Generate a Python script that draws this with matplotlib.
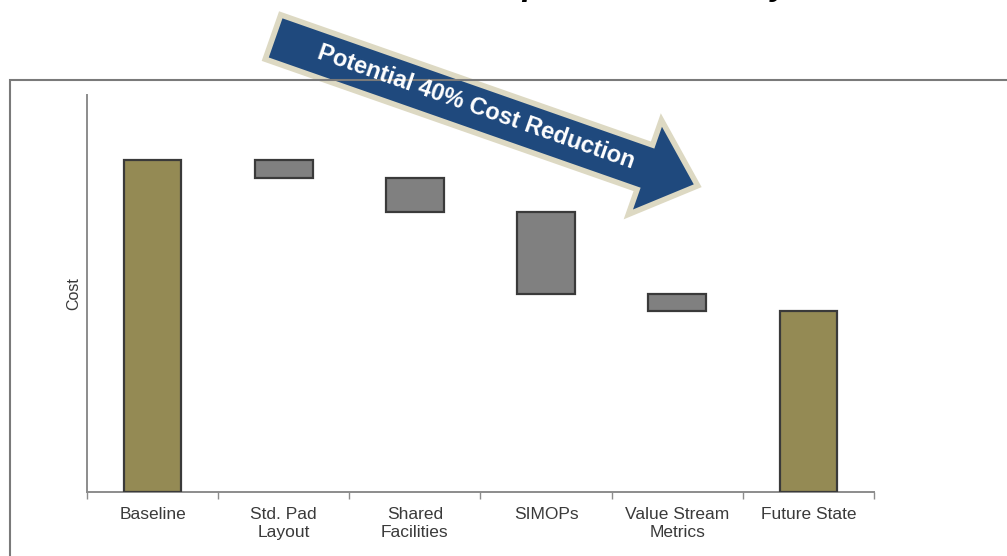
import matplotlib
matplotlib.use("Agg")
import matplotlib.pyplot as plt
from matplotlib.patches import FancyArrow
import numpy as np

plt.rcParams['font.family'] = ['Liberation Sans', 'DejaVu Sans']

# waterfall data
categories = ["Baseline", "Std. Pad\nLayout", "Shared\nFacilities", "SIMOPs",
              "Value Stream\nMetrics", "Future State"]
baseline = 100.0
reductions = [5.5, 10.0, 25.0, 5.0]   # Std. Pad, Shared, SIMOPs, Value Stream

olive = "#948a54"
grey = "#808080"
edge = "#3a3a3a"
axis_col = "#8c8c8c"

# cumulative steps
levels = [baseline]
for r in reductions:
    levels.append(levels[-1] - r)
future = levels[-1]

heights = [baseline] + reductions + [future]
bottoms = [0] + levels[1:] + [0]
colors = [olive] + [grey] * len(reductions) + [olive]

fig = plt.figure(figsize=(10.07, 5.56), dpi=100)

ax = fig.add_axes([87/1007, 64/556, 787/1007, 397/556])
ax.patch.set_alpha(0)
x = np.arange(len(categories))
ax.bar(x, heights, bottom=bottoms, width=0.44, color=colors,
       edgecolor=edge, linewidth=1.6, zorder=3)

ax.set_xlim(-0.5, len(categories) - 0.5)
ax.set_ylim(0, 119.6)
ax.set_xticks(x)
ax.set_xticklabels(categories, fontsize=12.5, color="#3a3a3a", linespacing=1.25)
ax.tick_params(axis="x", which="major", length=0, pad=11)
ax.set_xticks(np.arange(-0.5, len(categories)), minor=True)
ax.tick_params(axis="x", which="minor", length=5, color=axis_col, width=1)
ax.set_yticks([])
ax.set_ylabel("Cost", fontsize=11.5, color="#3a3a3a", labelpad=4)
for s in ["top", "right"]:
    ax.spines[s].set_visible(False)
for s in ["left", "bottom"]:
    ax.spines[s].set_color(axis_col)
    ax.spines[s].set_linewidth(1.4)

# overlay in pixel units for the frame and the arrow
ov = fig.add_axes([0, 0, 1, 1], zorder=5)
ov.set_xlim(0, 1007)
ov.set_ylim(556, 0)
ov.axis("off")
ov.plot([10, 10, 1007], [556, 80, 80], color="#7a7a7a", lw=1.5,
        solid_joinstyle="miter")

ang = np.deg2rad(19.3)
tail = np.array([273.0, 37.0])
length = 450.0
d = np.array([np.cos(ang), np.sin(ang)])
arr = FancyArrow(tail[0], tail[1], length * d[0], length * d[1],
                 width=47, head_width=100, head_length=56,
                 length_includes_head=True, facecolor="#1f497d",
                 edgecolor="#ddd9c3", linewidth=4, joinstyle="miter")
ov.add_patch(arr)
mid = tail + 215 * d
ov.text(mid[0], mid[1] - 1, "Potential 40% Cost Reduction", color="white",
        fontsize=17, fontweight="bold", rotation=-np.rad2deg(ang),
        rotation_mode="anchor", ha="center", va="center")

# page heading running off the top edge
fig.text(413/1007, 1 + 5/556, "Development Efficiency", fontsize=24,
         fontweight="bold", fontstyle="italic", color="black", va="baseline")

fig.savefig("out.png", dpi=100)
